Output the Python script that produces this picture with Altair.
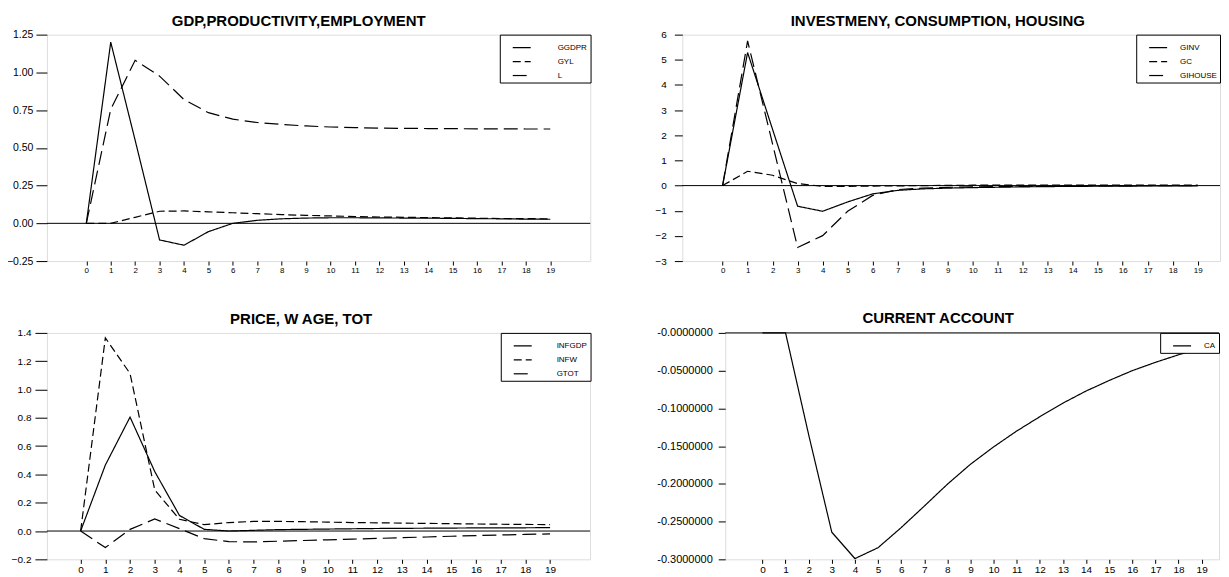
import altair as alt
import pandas as pd

steps = list(range(20))

# Panel 1: GDP, productivity, employment
ggdpr = [0, 1.20, 0.55, -0.11, -0.145, -0.055, 0.0, 0.02, 0.03, 0.035, 0.037, 0.037, 0.036, 0.035, 0.034, 0.033, 0.031, 0.030, 0.028, 0.027]
gyl = [0, 0.0, 0.04, 0.08, 0.082, 0.076, 0.070, 0.064, 0.058, 0.053, 0.049, 0.045, 0.042, 0.040, 0.038, 0.036, 0.034, 0.032, 0.031, 0.030]
l_emp = [0, 0.755, 1.08, 0.975, 0.82, 0.733, 0.69, 0.668, 0.655, 0.645, 0.638, 0.634, 0.631, 0.629, 0.628, 0.627, 0.626, 0.626, 0.625, 0.625]

# Panel 2: investment, consumption, housing
ginv = [0, 5.29, 2.23, -0.82, -1.02, -0.65, -0.33, -0.19, -0.13, -0.10, -0.08, -0.065, -0.05, -0.04, -0.03, -0.025, -0.02, -0.015, -0.01, -0.01]
gc = [0, 0.57, 0.41, 0.08, -0.03, -0.03, -0.02, -0.01, 0.0, 0.01, 0.015, 0.02, 0.02, 0.02, 0.02, 0.02, 0.02, 0.02, 0.02, 0.02]
gihouse = [0, 5.75, 1.65, -2.46, -1.99, -1.02, -0.39, -0.16, -0.10, -0.07, -0.05, -0.04, -0.03, -0.02, -0.015, -0.01, -0.01, -0.005, 0.0, 0.0]

# Panel 3: price, wage, terms of trade
infgdp = [0, 0.466, 0.805, 0.42, 0.11, 0.012, 0.0, 0.005, 0.010, 0.012, 0.014, 0.016, 0.018, 0.019, 0.020, 0.021, 0.022, 0.023, 0.023, 0.024]
infw = [0, 1.365, 1.113, 0.29, 0.083, 0.045, 0.060, 0.068, 0.068, 0.066, 0.063, 0.060, 0.058, 0.056, 0.054, 0.052, 0.050, 0.048, 0.047, 0.045]
gtot = [0, -0.117, 0.012, 0.085, 0.017, -0.054, -0.075, -0.077, -0.072, -0.067, -0.062, -0.057, -0.052, -0.047, -0.042, -0.037, -0.032, -0.028, -0.024, -0.020]

# Panel 4: current account
ca = [0, 0, -0.135, -0.264, -0.299, -0.2846, -0.258, -0.2295, -0.2005, -0.174, -0.151, -0.130, -0.111, -0.093, -0.077, -0.063, -0.050, -0.039, -0.029, -0.020]

SOLID = [1, 0]
SHORT = [8, 4]
LONG = [14, 6]
FONT = "Liberation Sans"


def long_df(series):
    rows = []
    for name, vals in series:
        for s, v in zip(steps, vals):
            rows.append({"step": s, "value": v, "series": name})
    return pd.DataFrame(rows)


def panel(series, dashes, title, width, height, xdom, ydom, yvals, yfmt, ylab_expr,
          ylab_size, ytick, ypad, xlab_size, label_offset):
    df = long_df(series)
    names = [n for n, _ in series]
    yaxis_kw = dict(values=yvals, title=None, grid=False, domain=False, tickSize=ytick,
                    labelPadding=ypad, labelFontSize=ylab_size, labelFont=FONT,
                    labelColor="black", tickColor="black", labelFlush=False)
    if ylab_expr:
        yaxis_kw["labelExpr"] = ylab_expr
    else:
        yaxis_kw["format"] = yfmt
    x = alt.X("step:Q", scale=alt.Scale(domain=xdom, nice=False, zero=False),
              axis=alt.Axis(values=steps, format="d", tickSize=4, labelPadding=1,
                            labelFontSize=xlab_size, labelFont=FONT, domain=False, grid=False,
                            title=None, labelColor="black", tickColor="black",
                            labelFlush=False))
    y = alt.Y("value:Q", scale=alt.Scale(domain=ydom, nice=False, zero=False),
              axis=alt.Axis(**yaxis_kw))
    lines = alt.Chart(df).mark_line(color="black", strokeWidth=1.2).encode(
        x=x, y=y,
        strokeDash=alt.StrokeDash(
            "series:N",
            scale=alt.Scale(domain=names, range=dashes),
            legend=alt.Legend(orient="top-right", offset=0, title=None, strokeColor="black",
                              fillColor="white", padding=3, symbolType="stroke",
                              symbolSize=324, symbolStrokeWidth=1.2, symbolStrokeColor="black",
                              labelFontSize=8, labelFont=FONT, labelColor="black",
                              labelOffset=label_offset, rowPadding=-7.5, symbolOffset=9,
                              cornerRadius=0),
        ),
    )
    zero = alt.Chart(pd.DataFrame({"value": [0.0]})).mark_rule(
        color="black", strokeWidth=1).encode(y=y)
    return alt.layer(zero, lines).properties(
        width=width, height=height,
        title=alt.TitleParams(title, fontSize=15, fontWeight="bold", font=FONT,
                              anchor="middle", frame="bounds", offset=1, color="black"),
    ).resolve_scale(strokeDash="independent")


p1 = panel([("GGDPR", ggdpr), ("GYL", gyl), ("L", l_emp)], [SOLID, SHORT, LONG],
           "GDP,PRODUCTIVITY,EMPLOYMENT", 544.7, 227, [-1.614, 20.637], [-0.25, 1.25],
           [-0.25, 0, 0.25, 0.5, 0.75, 1.0, 1.25], ".2f", None, 10.5, 11, 3, 8, 26)
p2 = panel([("GINV", ginv), ("GC", gc), ("GIHOUSE", gihouse)], [SOLID, SHORT, LONG],
           "INVESTMENY, CONSUMPTION, HOUSING", 539, 227, [-1.61, 19.89], [-3, 6],
           list(range(-3, 7)), "d", None, 10, 8, 8, 8, 12)
p3 = panel([("INFGDP", infgdp), ("INFW", infw), ("GTOT", gtot)], [SOLID, SHORT, LONG],
           "PRICE, W AGE, TOT", 544.5, 227, [-1.365, 20.618], [-0.2, 1.4],
           [-0.2, 0, 0.2, 0.4, 0.6, 0.8, 1.0, 1.2, 1.4], ".1f", None, 10, 12, 4, 10, 24)
p4 = panel([("CA", ca)], [SOLID],
           "CURRENT ACCOUNT", 495, 227, [-1.61, 19.75], [-0.3, 0],
           [-0.3, -0.25, -0.2, -0.15, -0.1, -0.05, 0],
           None, "'-' + format(abs(datum.value), '.7f')", 11, 7, 6, 10, 12)

row1 = alt.hconcat(p1, p2, spacing=63).resolve_scale(
    x="independent", y="independent", strokeDash="independent").resolve_legend(strokeDash="independent")
row2 = alt.hconcat(p3, p4, spacing=64).resolve_scale(
    x="independent", y="independent", strokeDash="independent").resolve_legend(strokeDash="independent")

chart = alt.vconcat(row1, row2, spacing=35).resolve_scale(
    x="independent", y="independent", strokeDash="independent"
).resolve_legend(strokeDash="independent").properties(
    padding={"left": -3, "top": 4, "right": 0, "bottom": 0}
).configure_view(stroke="#222222", strokeWidth=1).configure(background="white")

chart.save("out.html", embed_options={"renderer": "svg", "actions": False})
